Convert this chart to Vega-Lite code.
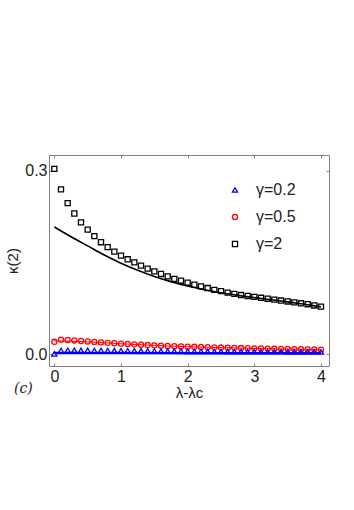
{
  "$schema": "https://vega.github.io/schema/vega-lite/v6.json",
  "autosize": "none",
  "width": 280,
  "height": 211,
  "padding": {"left": 49, "top": 155, "right": 25, "bottom": 144},
  "background": "white",
  "config": {
    "view": {"stroke": "#808080", "strokeWidth": 1},
    "font": "Liberation Sans",
    "axis": {"grid": false, "domain": false, "tickColor": "#808080", "tickSize": -3, "labelColor": "#222222", "titleColor": "#222222", "titleFontWeight": "normal", "labelFont": "Liberation Sans", "titleFont": "Liberation Sans"}
  },
  "title": {"text": "(c)", "orient": "bottom", "anchor": "start", "frame": "group", "font": "DejaVu Serif", "fontStyle": "italic", "fontWeight": "normal", "fontSize": 14, "color": "#222222", "dx": -35, "dy": -22},
  "datasets": {
    "pts": [
      {"x": 0, "k": 0.303, "g": "γ=2"}, {"x": 0.1, "k": 0.2695, "g": "γ=2"}, {"x": 0.2, "k": 0.247, "g": "γ=2"}, {"x": 0.3, "k": 0.23, "g": "γ=2"}, {"x": 0.4, "k": 0.2155, "g": "γ=2"}, {"x": 0.5, "k": 0.2035, "g": "γ=2"}, {"x": 0.6, "k": 0.193, "g": "γ=2"}, {"x": 0.7, "k": 0.183, "g": "γ=2"}, {"x": 0.8, "k": 0.175, "g": "γ=2"}, {"x": 0.9, "k": 0.1675, "g": "γ=2"}, {"x": 1.0, "k": 0.161, "g": "γ=2"}, {"x": 1.1, "k": 0.155, "g": "γ=2"}, {"x": 1.2, "k": 0.15, "g": "γ=2"}, {"x": 1.3, "k": 0.1446, "g": "γ=2"}, {"x": 1.4, "k": 0.1397, "g": "γ=2"}, {"x": 1.5, "k": 0.1353, "g": "γ=2"}, {"x": 1.6, "k": 0.131, "g": "γ=2"}, {"x": 1.7, "k": 0.127, "g": "γ=2"}, {"x": 1.8, "k": 0.123, "g": "γ=2"}, {"x": 1.9, "k": 0.12, "g": "γ=2"}, {"x": 2.0, "k": 0.1167, "g": "γ=2"}, {"x": 2.1, "k": 0.1134, "g": "γ=2"}, {"x": 2.2, "k": 0.1107, "g": "γ=2"}, {"x": 2.3, "k": 0.108, "g": "γ=2"}, {"x": 2.4, "k": 0.105, "g": "γ=2"}, {"x": 2.5, "k": 0.103, "g": "γ=2"}, {"x": 2.6, "k": 0.1005, "g": "γ=2"}, {"x": 2.7, "k": 0.0985, "g": "γ=2"}, {"x": 2.8, "k": 0.0965, "g": "γ=2"}, {"x": 2.9, "k": 0.095, "g": "γ=2"}, {"x": 3.0, "k": 0.0935, "g": "γ=2"}, {"x": 3.1, "k": 0.092, "g": "γ=2"}, {"x": 3.2, "k": 0.0905, "g": "γ=2"}, {"x": 3.3, "k": 0.089, "g": "γ=2"}, {"x": 3.4, "k": 0.0875, "g": "γ=2"}, {"x": 3.5, "k": 0.086, "g": "γ=2"}, {"x": 3.6, "k": 0.0845, "g": "γ=2"}, {"x": 3.7, "k": 0.083, "g": "γ=2"}, {"x": 3.8, "k": 0.0815, "g": "γ=2"}, {"x": 3.9, "k": 0.0795, "g": "γ=2"}, {"x": 4.0, "k": 0.0775, "g": "γ=2"},
      {"x": 0, "k": 0.02, "g": "γ=0.5"}, {"x": 0.1, "k": 0.0235, "g": "γ=0.5"}, {"x": 0.2, "k": 0.023, "g": "γ=0.5"}, {"x": 0.3, "k": 0.0222, "g": "γ=0.5"}, {"x": 0.4, "k": 0.0214, "g": "γ=0.5"}, {"x": 0.5, "k": 0.0206, "g": "γ=0.5"}, {"x": 0.6, "k": 0.0198, "g": "γ=0.5"}, {"x": 0.7, "k": 0.019, "g": "γ=0.5"}, {"x": 0.8, "k": 0.0183, "g": "γ=0.5"}, {"x": 0.9, "k": 0.0176, "g": "γ=0.5"}, {"x": 1.0, "k": 0.017, "g": "γ=0.5"}, {"x": 1.1, "k": 0.0164, "g": "γ=0.5"}, {"x": 1.2, "k": 0.0158, "g": "γ=0.5"}, {"x": 1.3, "k": 0.0152, "g": "γ=0.5"}, {"x": 1.4, "k": 0.0147, "g": "γ=0.5"}, {"x": 1.5, "k": 0.0142, "g": "γ=0.5"}, {"x": 1.6, "k": 0.0137, "g": "γ=0.5"}, {"x": 1.7, "k": 0.0133, "g": "γ=0.5"}, {"x": 1.8, "k": 0.0129, "g": "γ=0.5"}, {"x": 1.9, "k": 0.0125, "g": "γ=0.5"}, {"x": 2.0, "k": 0.0121, "g": "γ=0.5"}, {"x": 2.1, "k": 0.0118, "g": "γ=0.5"}, {"x": 2.2, "k": 0.0115, "g": "γ=0.5"}, {"x": 2.3, "k": 0.0112, "g": "γ=0.5"}, {"x": 2.4, "k": 0.0109, "g": "γ=0.5"}, {"x": 2.5, "k": 0.0106, "g": "γ=0.5"}, {"x": 2.6, "k": 0.0103, "g": "γ=0.5"}, {"x": 2.7, "k": 0.0101, "g": "γ=0.5"}, {"x": 2.8, "k": 0.0098, "g": "γ=0.5"}, {"x": 2.9, "k": 0.0096, "g": "γ=0.5"}, {"x": 3.0, "k": 0.0093, "g": "γ=0.5"}, {"x": 3.1, "k": 0.0091, "g": "γ=0.5"}, {"x": 3.2, "k": 0.0089, "g": "γ=0.5"}, {"x": 3.3, "k": 0.0086, "g": "γ=0.5"}, {"x": 3.4, "k": 0.0084, "g": "γ=0.5"}, {"x": 3.5, "k": 0.0082, "g": "γ=0.5"}, {"x": 3.6, "k": 0.008, "g": "γ=0.5"}, {"x": 3.7, "k": 0.0078, "g": "γ=0.5"}, {"x": 3.8, "k": 0.0076, "g": "γ=0.5"}, {"x": 3.9, "k": 0.0074, "g": "γ=0.5"}, {"x": 4.0, "k": 0.0072, "g": "γ=0.5"},
      {"x": 0, "k": 0.0003, "g": "γ=0.2"}, {"x": 0.1, "k": 0.0058, "g": "γ=0.2"}, {"x": 0.2, "k": 0.0062, "g": "γ=0.2"}, {"x": 0.3, "k": 0.0062, "g": "γ=0.2"}, {"x": 0.4, "k": 0.0061, "g": "γ=0.2"}, {"x": 0.5, "k": 0.006, "g": "γ=0.2"}, {"x": 0.6, "k": 0.0059, "g": "γ=0.2"}, {"x": 0.7, "k": 0.0058, "g": "γ=0.2"}, {"x": 0.8, "k": 0.0057, "g": "γ=0.2"}, {"x": 0.9, "k": 0.0056, "g": "γ=0.2"}, {"x": 1.0, "k": 0.0055, "g": "γ=0.2"}, {"x": 1.1, "k": 0.0054, "g": "γ=0.2"}, {"x": 1.2, "k": 0.0053, "g": "γ=0.2"}, {"x": 1.3, "k": 0.0052, "g": "γ=0.2"}, {"x": 1.4, "k": 0.0051, "g": "γ=0.2"}, {"x": 1.5, "k": 0.005, "g": "γ=0.2"}, {"x": 1.6, "k": 0.0049, "g": "γ=0.2"}, {"x": 1.7, "k": 0.0048, "g": "γ=0.2"}, {"x": 1.8, "k": 0.0047, "g": "γ=0.2"}, {"x": 1.9, "k": 0.0046, "g": "γ=0.2"}, {"x": 2.0, "k": 0.0045, "g": "γ=0.2"}, {"x": 2.1, "k": 0.0044, "g": "γ=0.2"}, {"x": 2.2, "k": 0.0044, "g": "γ=0.2"}, {"x": 2.3, "k": 0.0043, "g": "γ=0.2"}, {"x": 2.4, "k": 0.0042, "g": "γ=0.2"}, {"x": 2.5, "k": 0.0042, "g": "γ=0.2"}, {"x": 2.6, "k": 0.0041, "g": "γ=0.2"}, {"x": 2.7, "k": 0.004, "g": "γ=0.2"}, {"x": 2.8, "k": 0.004, "g": "γ=0.2"}, {"x": 2.9, "k": 0.0039, "g": "γ=0.2"}, {"x": 3.0, "k": 0.0039, "g": "γ=0.2"}, {"x": 3.1, "k": 0.0038, "g": "γ=0.2"}, {"x": 3.2, "k": 0.0038, "g": "γ=0.2"}, {"x": 3.3, "k": 0.0037, "g": "γ=0.2"}, {"x": 3.4, "k": 0.0037, "g": "γ=0.2"}, {"x": 3.5, "k": 0.0036, "g": "γ=0.2"}, {"x": 3.6, "k": 0.0036, "g": "γ=0.2"}, {"x": 3.7, "k": 0.0035, "g": "γ=0.2"}, {"x": 3.8, "k": 0.0035, "g": "γ=0.2"}, {"x": 3.9, "k": 0.0034, "g": "γ=0.2"}, {"x": 4.0, "k": 0.0034, "g": "γ=0.2"}
    ],
    "lineBlack": [
      {"x": 0, "k": 0.208}, {"x": 0.25, "k": 0.192}, {"x": 0.5, "k": 0.177}, {"x": 0.75, "k": 0.162}, {"x": 1.0, "k": 0.1485}, {"x": 1.25, "k": 0.137}, {"x": 1.5, "k": 0.127}, {"x": 1.75, "k": 0.1185}, {"x": 2.0, "k": 0.1112}, {"x": 2.25, "k": 0.1052}, {"x": 2.5, "k": 0.1002}, {"x": 2.75, "k": 0.096}, {"x": 3.0, "k": 0.0923}, {"x": 3.25, "k": 0.0888}, {"x": 3.5, "k": 0.0853}, {"x": 3.75, "k": 0.0814}, {"x": 4.0, "k": 0.0772}
    ],
    "lineRed": [
      {"x": 0, "k": 0.0215}, {"x": 0.5, "k": 0.02}, {"x": 1.0, "k": 0.0168}, {"x": 1.5, "k": 0.0141}, {"x": 2.0, "k": 0.012}, {"x": 2.5, "k": 0.0105}, {"x": 3.0, "k": 0.0092}, {"x": 3.5, "k": 0.0081}, {"x": 4.0, "k": 0.0071}
    ],
    "lineBlue": [
      {"x": 0, "k": 0.0018}, {"x": 1.0, "k": 0.0016}, {"x": 2.0, "k": 0.0014}, {"x": 3.0, "k": 0.0013}, {"x": 4.0, "k": 0.0012}
    ]
  },
  "layer": [
    {
      "data": {"name": "lineBlue"},
      "mark": {"type": "line", "color": "#0000ff", "strokeWidth": 2.5},
      "encoding": {
        "x": {"field": "x", "type": "quantitative", "scale": {"domain": [-0.08, 4.12], "nice": false, "zero": false}, "axis": {"values": [0, 1, 2, 3, 4], "format": "d", "labelFontSize": 16, "labelPadding": 5, "title": "λ-λc", "titleFontSize": 15, "titlePadding": 1}},
        "y": {"field": "k", "type": "quantitative", "scale": {"domain": [-0.0196, 0.3257], "nice": false, "zero": false}, "axis": {"values": [0, 0.3], "format": ".1f", "labelFontSize": 16, "labelPadding": 5, "title": "κ(2)", "titleFontSize": 15, "titlePadding": 4}}
      }
    },
    {
      "data": {"name": "lineBlue"},
      "mark": {"type": "line", "opacity": 0},
      "encoding": {
        "x": {"field": "x", "type": "quantitative", "axis": {"orient": "top", "values": [0, 1, 2, 3, 4], "labels": false, "title": null}},
        "y": {"field": "k", "type": "quantitative", "axis": {"orient": "right", "values": [0, 0.3], "labels": false, "title": null}}
      }
    },
    {
      "data": {"name": "lineRed"},
      "mark": {"type": "line", "color": "#ff0000", "strokeWidth": 1, "interpolate": "monotone"},
      "encoding": {"x": {"field": "x", "type": "quantitative", "axis": null}, "y": {"field": "k", "type": "quantitative", "axis": null}}
    },
    {
      "data": {"name": "lineBlack"},
      "mark": {"type": "line", "color": "#000000", "strokeWidth": 1.6, "interpolate": "monotone"},
      "encoding": {"x": {"field": "x", "type": "quantitative", "axis": null}, "y": {"field": "k", "type": "quantitative", "axis": null}}
    },
    {
      "data": {"name": "pts"},
      "mark": {"type": "point", "filled": false, "strokeWidth": 1.3, "size": 26, "opacity": 1},
      "encoding": {
        "x": {"field": "x", "type": "quantitative", "axis": null},
        "y": {"field": "k", "type": "quantitative", "axis": null},
        "color": {"field": "g", "type": "nominal", "scale": {"domain": ["γ=0.2", "γ=0.5", "γ=2"], "range": ["#0000ff", "#ff0000", "#000000"]}, "legend": {"orient": "none", "legendX": 178, "legendY": 27, "title": null, "labelFontSize": 16, "labelColor": "#222222", "labelOffset": 13, "rowPadding": 11, "symbolSize": 26, "symbolStrokeWidth": 1.3}},
        "shape": {"field": "g", "type": "nominal", "scale": {"domain": ["γ=0.2", "γ=0.5", "γ=2"], "range": ["triangle-up", "circle", "square"]}}
      }
    }
  ],
  "resolve": {"axis": {"x": "independent", "y": "independent"}}
}
